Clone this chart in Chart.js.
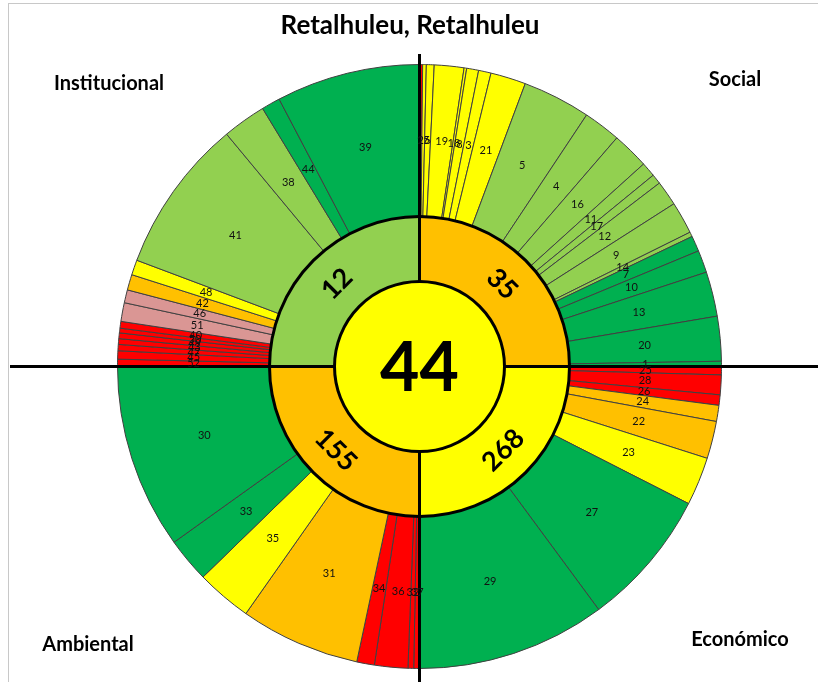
<!DOCTYPE html>
<html>
<head>
<meta charset="utf-8">
<script src="https://cdn.jsdelivr.net/npm/chart.js@4.4.0/dist/chart.umd.min.js"></script>
<style>
  html, body { margin:0; padding:0; background:#fff; }
  #wrap { position:relative; width:818px; height:682px; overflow:hidden; }
  #frame { position:absolute; left:8px; top:3px; width:840px; height:720px; border:1px solid #c8c8c8; }
  canvas { position:absolute; left:0; top:0; }
</style>
</head>
<body>
<div id="wrap"><div id="frame"></div><canvas id="c" width="818" height="682"></canvas></div>
<script>
// sunburst: indicators (outer ring) -> dimensions (inner ring) -> municipal index (centre)
const chartTitle = 'Retalhuleu, Retalhuleu';

// outer ring, clockwise from 12 o'clock, span in degrees, level = colour class
const socialIds   = ['2','15','6','19','18','8','3','21','5','4','16','11','17','12','9','14','7','10','13','20'];
const socialSpan  = [0.6,0.7,1.5,5.7,0.5,2.3,2.4,6.8,13.1,7.2,7.1,2.8,1.9,4.8,6.2,0.9,3.0,4.3,8.6,8.6];
const socialLevel = ['r','y','y','y','y','y','y','y','lg','lg','lg','lg','lg','lg','lg','lg','dg','dg','dg','dg'];

const economicIds   = ['1','25','28','26','24','22','23','27','29'];
const economicSpan  = [1.2,1.4,3.8,2.0,3.1,7.2,9.3,26.6,36.4];
const economicLevel = ['dg','r','r','r','o','o','y','dg','dg'];

const ambientalIds   = ['37','32','36','34','31','35','33','30'];
const ambientalSpan  = [1.1,1.1,6.4,3.4,23.1,10.7,8.6,35.6];
const ambientalLevel = ['r','r','r','r','o','y','dg','dg'];

const institucionalIds   = ['52','45','47','43','49','50','40','51','46','42','48','41','38','44','39'];
const institucionalSpan  = [1.4,1.6,1.2,1.1,1.1,0.9,1.3,3.6,2.5,3.0,2.9,29.7,8.4,3.6,27.7];
const institucionalLevel = ['r','r','r','r','r','r','r','p','p','o','y','lg','lg','dg','dg'];

// inner ring
const dimNames  = ['Social','Económico','Ambiental','Institucional'];
const dimScores = [35, 268, 155, 12];
const dimSpan   = [90, 90, 90, 90];
const dimLevel  = ['o','y','o','lg'];

// centre
const centerScore = 44;
const centerLevel = 'y';

const levelColor = { dg:'#00B050', lg:'#92D050', y:'#FFFF00', o:'#FFC000', r:'#FF0000', p:'#DA9694' };

const outerIds   = socialIds.concat(economicIds, ambientalIds, institucionalIds);
const outerSpan  = socialSpan.concat(economicSpan, ambientalSpan, institucionalSpan);
const outerLevel = socialLevel.concat(economicLevel, ambientalLevel, institucionalLevel);

const FONT = 'Lato, "Open Sans", sans-serif';

const overlay = {
  id: 'overlay',
  afterDatasetsDraw(chart){
    const ctx = chart.ctx;
    const outer = chart.getDatasetMeta(0).data;
    const inner = chart.getDatasetMeta(1).data;
    const cx = outer[0].x, cy = outer[0].y;
    const rIn = inner[0].outerRadius, rMid = inner[0].innerRadius;
    ctx.save();

    // quadrant axes (stop at the centre disc)
    ctx.strokeStyle = '#000'; ctx.lineWidth = 3;
    ctx.beginPath();
    ctx.moveTo(10, cy); ctx.lineTo(cx - rMid, cy);
    ctx.moveTo(cx + rMid, cy); ctx.lineTo(chart.width, cy);
    ctx.moveTo(cx, 54); ctx.lineTo(cx, cy - rMid);
    ctx.moveTo(cx, cy + rMid); ctx.lineTo(cx, chart.height);
    ctx.stroke();
    ctx.beginPath(); ctx.arc(cx, cy, rIn, 0, Math.PI*2); ctx.stroke();
    ctx.beginPath(); ctx.arc(cx, cy, rMid, 0, Math.PI*2); ctx.stroke();

    // indicator numbers
    ctx.fillStyle = '#111';
    ctx.textAlign = 'center'; ctx.textBaseline = 'middle';
    ctx.font = '11px ' + FONT;
    outer.forEach((arc, i) => {
      const p = arc.getCenterPoint();
      ctx.fillText(outerIds[i], p.x, p.y);
    });

    // dimension scores, rotated along the ring
    ctx.fillStyle = '#000';
    ctx.font = 'bold 27px ' + FONT;
    inner.forEach((arc, i) => {
      const p = arc.getCenterPoint();
      let rot = (arc.startAngle + arc.endAngle)/2 + Math.PI/2;
      while (rot > Math.PI/2) rot -= Math.PI;
      while (rot <= -Math.PI/2) rot += Math.PI;
      ctx.save();
      ctx.translate(p.x, p.y); ctx.rotate(rot);
      ctx.fillText(String(dimScores[i]), 0, 1);
      ctx.restore();
    });

    // centre value
    ctx.font = 'bold 68px ' + FONT;
    ctx.fillText(String(centerScore), cx, cy + 3);

    // title and dimension names
    ctx.font = 'bold 26px ' + FONT;
    ctx.fillText(chartTitle, 410, 26);
    ctx.font = 'bold 20px ' + FONT;
    ctx.fillText(dimNames[3], 109, 84);
    ctx.fillText(dimNames[0], 735, 80);
    ctx.fillText(dimNames[2], 88, 645);
    ctx.fillText(dimNames[1], 740, 640);
    ctx.restore();
  }
};

new Chart(document.getElementById('c'), {
  type: 'doughnut',
  data: {
    datasets: [
      { data: outerSpan, backgroundColor: outerLevel.map(l => levelColor[l]),
        borderColor: '#404040', borderWidth: 1, weight: 152 },
      { data: dimSpan, backgroundColor: dimLevel.map(l => levelColor[l]),
        borderWidth: 0, weight: 65 },
      { data: [1], backgroundColor: [levelColor[centerLevel]], borderWidth: 0, weight: 85 }
    ]
  },
  options: {
    responsive: false,
    animation: false,
    cutout: 0,
    layout: { padding: { left: 117, top: 64, right: 96, bottom: 13 } },
    plugins: { legend: { display: false }, tooltip: { enabled: false }, title: { display: false } }
  },
  plugins: [overlay]
});
</script>
</body>
</html>
